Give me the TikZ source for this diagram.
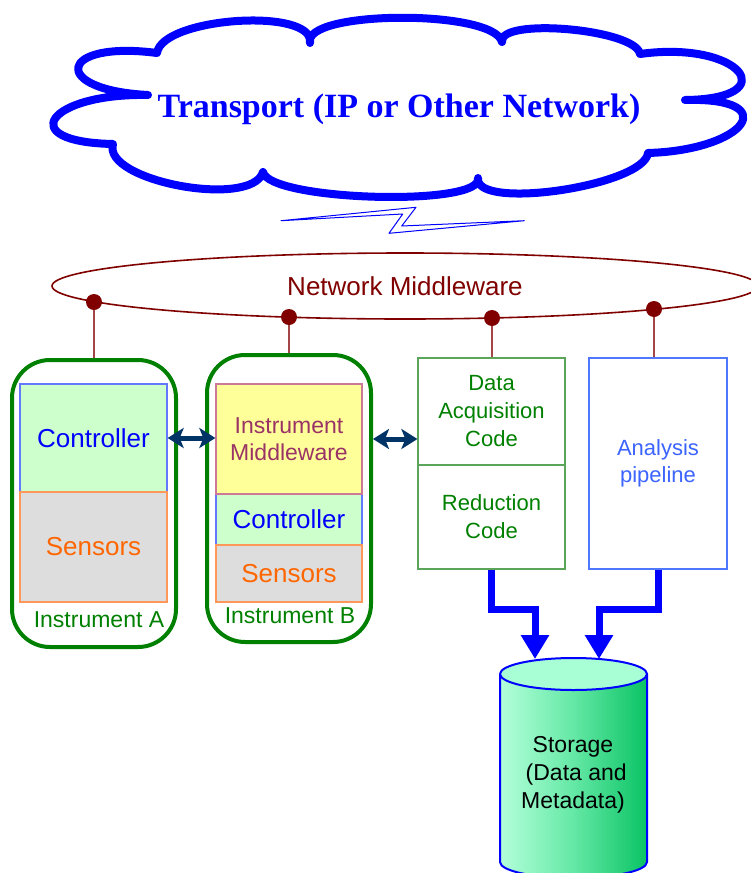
\documentclass[tikz,border=0pt]{standalone}
\usepackage{fontspec}
\setmainfont{Liberation Sans}
\newfontfamily\serifbold{Liberation Serif}
\usetikzlibrary{arrows.meta,shapes.geometric,calc}

\definecolor{netred}{RGB}{128,0,0}
\definecolor{tapred}{RGB}{165,70,70}
\definecolor{instgreen}{RGB}{0,128,0}
\definecolor{codeedge}{RGB}{90,165,90}
\definecolor{ctrlfill}{RGB}{204,255,204}
\definecolor{ctrledge}{RGB}{100,120,255}
\definecolor{sensfill}{RGB}{221,221,221}
\definecolor{sensedge}{RGB}{255,150,90}
\definecolor{senstext}{RGB}{255,102,0}
\definecolor{mwfill}{RGB}{255,255,153}
\definecolor{mwedge}{RGB}{204,120,150}
\definecolor{mwtext}{RGB}{153,51,102}
\definecolor{pipeedge}{RGB}{80,120,255}
\definecolor{pipetext}{RGB}{60,100,255}
\definecolor{linknavy}{RGB}{0,51,102}
\definecolor{cylleft}{RGB}{180,255,218}
\definecolor{cylmid}{RGB}{100,232,165}
\definecolor{cylright}{RGB}{10,195,100}
\definecolor{cyltop}{RGB}{168,255,214}

\begin{document}
\begin{tikzpicture}[x=1pt,y=-1pt,
  cloudline/.style={draw=blue, line width=8pt, line join=round, fill=white},
  instframe/.style={draw=instgreen, line width=4pt, rounded corners=38pt,
    minimum width=164pt, minimum height=287pt, inner sep=0pt},
  layer/.style={minimum width=147pt, inner sep=0pt, line width=1.3pt},
  ctrl/.style={layer, fill=ctrlfill, draw=ctrledge, text=blue,
    font=\fontsize{26}{30}\selectfont},
  sens/.style={layer, fill=sensfill, draw=sensedge, text=senstext,
    font=\fontsize{26}{30}\selectfont},
  mw/.style={layer, fill=mwfill, draw=mwedge, text=mwtext, align=center,
    font=\fontsize{23}{27}\selectfont},
  instlabel/.style={text=instgreen, font=\fontsize{23}{27}\selectfont},
  codebox/.style={draw=codeedge, line width=1.2pt, minimum width=147pt,
    inner sep=0pt, text=instgreen, align=center,
    font=\fontsize{22}{28}\selectfont},
  tap/.style={draw=tapred, line width=1.6pt},
  tapdot/.style={circle, fill=netred, inner sep=0pt, minimum size=16pt},
  peerlink/.style={draw=linknavy, line width=5pt,
    {Stealth[length=16pt,width=20pt,inset=4pt]}-{Stealth[length=16pt,width=20pt,inset=4pt]}},
  storeflow/.style={draw=blue, line width=7pt, line join=miter,
    -{Triangle[length=24pt,width=27pt]}}
]
\useasboundingbox (0,0) rectangle (751,873);
\fill[white] (0,0) rectangle (751,873);

% transport cloud: ten lobes joined at inward cusps
\draw[cloudline] (148,95)
  .. controls (49,90) and (58,40) .. (157,53)
  .. controls (162,17) and (315,7) .. (310,43)
  .. controls (302,10) and (494,9) .. (502,42)
  .. controls (498,17) and (636,29) .. (640,54)
  .. controls (741,40) and (786,99) .. (685,100)
  .. controls (784,97) and (747,150) .. (648,153)
  .. controls (644,186) and (474,211) .. (478,178)
  .. controls (484,207) and (269,201) .. (263,172)
  .. controls (252,209) and (102,181) .. (113,144)
  .. controls (13,142) and (48,93) .. cycle;
\node[text=blue, anchor=base, font=\serifbold\bfseries\fontsize{34}{40}\selectfont]
  (transport) at (399,117) {Transport (IP or Other Network)};

% lightning bolt
\draw[blue, line width=1pt, line join=round, fill=white]
  (281,220.7) -- (416,207.3) -- (401.7,226) -- (524.3,220.7)
  -- (389,233.3) -- (402.7,214) -- cycle;

% network middleware ring
\node[draw=netred, line width=1.6pt, ellipse, minimum width=706pt,
  minimum height=66pt, text=netred, font=\fontsize{26}{30}\selectfont]
  (netmw) at (405,286) {Network Middleware};

% instrument A
\node[instframe] (instA) at (94,503.5) {};
\node[ctrl, minimum height=108pt] (ctrlA) at (93.5,438) {Controller};
\node[sens, minimum height=110pt] (sensA) at (93.5,547) {Sensors};
\node[instlabel] (labelA) at (99,620) {Instrument A};

% instrument B
\node[instframe] (instB) at (289,498.5) {};
\node[ctrl, minimum width=146pt, minimum height=51pt] (ctrlB) at (289,519.5) {Controller};
\node[sens, minimum width=146pt, minimum height=57pt] (sensB) at (289,573.5) {Sensors};
\node[mw, minimum width=146pt, minimum height=110pt] (mwB) at (289,439) {Instrument\\Middleware};
\node[instlabel] (labelB) at (290,616) {Instrument B};

% code blocks
\node[codebox, minimum height=107pt] (daqTop) at (491.5,411.5) {Data\\Acquisition\\Code};
\node[codebox, minimum height=104pt] (daqBot) at (491.5,517) {Reduction\\Code};
\node[draw=pipeedge, line width=1.2pt, minimum width=138pt, minimum height=211pt,
  inner sep=0pt, text=pipetext, align=center, font=\fontsize{22}{27}\selectfont]
  (pipe) at (658,463.5) {Analysis\\pipeline};

% taps on the middleware ring
\coordinate (tapA) at (94,302);
\coordinate (tapB) at (289,317);
\coordinate (tapC) at (492,318);
\coordinate (tapD) at (654,309);
\draw[tap] (tapA) -- (tapA |- instA.north);
\draw[tap] (tapB) -- (tapB |- instB.north);
\draw[tap] (tapC) -- (tapC |- daqTop.north);
\draw[tap] (tapD) -- (tapD |- pipe.north);
\node[tapdot] (dotA) at (tapA) {};
\node[tapdot] (dotB) at (tapB) {};
\node[tapdot] (dotC) at (tapC) {};
\node[tapdot] (dotD) at (tapD) {};

% peer links
\draw[peerlink] (ctrlA.east) -- (ctrlA.east -| mwB.west);
\draw[peerlink] (instB.east |- mwB.center) -- (daqTop.west |- mwB.center);

% storage cylinder
\shade[left color=cylleft, right color=cylright, middle color=cylmid]
  (500,674) -- (500,862) arc[start angle=180, end angle=360, x radius=73.5pt, y radius=16pt]
  -- (647,674) -- cycle;
\draw[blue, line width=2pt]
  (500,674) -- (500,862) arc[start angle=180, end angle=360, x radius=73.5pt, y radius=16pt]
  -- (647,674);
\draw[blue, line width=2pt, fill=cyltop] (573.5,674) ellipse[x radius=73.5pt, y radius=16pt];
\node[align=center, font=\fontsize{23}{28}\selectfont] (storage) at (573,775)
  {Storage\\~(Data and\\Metadata)};

% flows into storage
\coordinate (in1) at (535,659);
\coordinate (in2) at (599,659);
\draw[storeflow] (daqBot.south) |- ($(in1)+(0,-50)$) -- (in1);
\draw[storeflow] (pipe.south) |- ($(in2)+(0,-50)$) -- (in2);
\end{tikzpicture}
\end{document}
